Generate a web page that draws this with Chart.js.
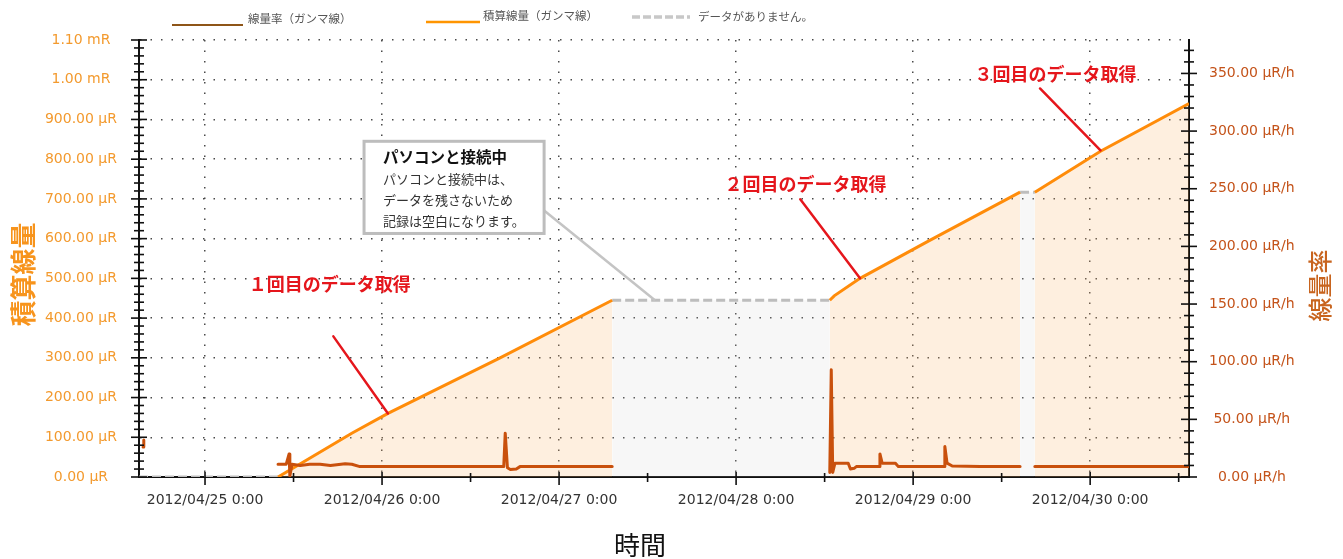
<!DOCTYPE html>
<html lang="ja">
<head>
<meta charset="utf-8">
<title>線量率・積算線量</title>
<script src="https://cdn.jsdelivr.net/npm/chart.js@4.4.1/dist/chart.umd.min.js"></script>
<style>
  html, body { margin: 0; padding: 0; background: #fff; }
  #wrap { width: 1343px; height: 559px; position: relative; }
</style>
</head>
<body>
<div id="wrap"><canvas id="c"></canvas></div>
<script>
// Time axis: hours counted from 2012/04/25 0:00
const axisStartHour = -8.95;
const axisEndHour = 133.4;
const dayTickHours = [0, 24, 48, 72, 96, 120];
const dayTickLabels = ['2012/04/25 0:00', '2012/04/26 0:00', '2012/04/27 0:00',
                       '2012/04/28 0:00', '2012/04/29 0:00', '2012/04/30 0:00'];
const halfDayTickHours = [12, 36, 60, 84, 108, 132];

// 積算線量 axis (μR) and 線量率 axis (μR/h)
const doseTicks = [0, 100, 200, 300, 400, 500, 600, 700, 800, 900, 1000, 1100];
const rateTicks = [0, 50, 100, 150, 200, 250, 300, 350];
const doseMax = 1100;
const rateMax = 379;

// 線量率（ガンマ線） μR/h — null marks a break between recordings
const rateHours = [-8.4, -8.3, 0,
  9.9, 11.0, 11.4, 11.5, 11.8, 12.9, 14.2, 15.6, 17.0, 19.0, 19.9, 21.0, 26.4, 33.2,
  40.5, 40.7, 41.0, 41.4, 42.2, 42.7, 48.1, 55.2, 70,
  84.7, 84.9, 85.1, 85.4, 87.2, 87.5, 88.0, 88.3, 91.4, 91.5, 91.8, 93.6, 94.0,
  100.2, 100.3, 100.6, 101.3, 105.1, 110.5, 111.5,
  112.5, 121.4, 133.4];
const rateValues = [26, 32, null,
  11, 11, 20, 1, 11, 10, 11, 11, 10, 11.5, 11, 9, 9, 9,
  9, 38, 8, 6.5, 7, 9, 9, 9, null,
  4, 93, 4, 12, 12, 7, 7.5, 9, 9, 20, 12, 12, 9,
  9, 26.5, 12, 9.5, 9, 9, null,
  9, 9, 9];

// 積算線量（ガンマ線） μR
const doseHours = [9.9, 19.9, 24.8, 40.0, 55.2, 70,
  84.7, 85.3, 88.8, 98.0, 110.5, 111.5,
  112.5, 121.4, 133.4];
const doseValues = [0, 110, 160, 300, 445, null,
  445, 456, 500, 593, 717, null,
  717, 820, 940];

// データがありません。 spans (dose held flat while nothing is recorded)
const gapHours = [-8.95, 9.9, 30, 55.2, 84.7, 100, 110.5, 112.5];
const gapValues = [0, 0, null, 445, 445, null, 717, 717];

const toPoints = (xs, ys) => xs.map((x, i) => ({ x: x, y: ys[i] }));

const LATIN = '"DejaVu Sans", Verdana, sans-serif';
const CJK = '"Noto Sans CJK JP", "Noto Sans", sans-serif';

const fmtDose = v => v >= 1000 ? (v / 1000).toFixed(2) + ' mR' : v.toFixed(2) + ' μR';
const fmtRate = v => v.toFixed(2) + ' μR/h';

// Red call-outs, placed in (hour, μR) coordinates
const callouts = [
  { text: '１回目のデータ取得', at: [16.9, 485], from: [17.4, 354], to: [24.8, 160] },
  { text: '２回目のデータ取得', at: [81.4, 737], from: [80.7, 699], to: [88.8, 500] },
  { text: '３回目のデータ取得', at: [115.3, 1014], from: [113.2, 978], to: [121.4, 822] }
];
// Note box explaining the blank span
const noteBox = {
  title: 'パソコンと接続中',
  lines: ['パソコンと接続中は、', 'データを残さないため', '記録は空白になります。'],
  left: 21.56, right: 45.97, top: 845, bottom: 613,
  pointerFrom: [45.97, 671], pointerTo: [61.0, 445]
};

const decorations = {
  id: 'decorations',
  afterDraw(chart) {
    const { ctx, chartArea: a, scales } = chart;
    const x = scales.x, yL = scales.yL, yR = scales.yR;

    // axis tick marks crossing the axis lines
    ctx.save();
    ctx.strokeStyle = '#111';
    ctx.lineWidth = 1.6;
    const hMark = (px, py, len) => { ctx.beginPath(); ctx.moveTo(px - len, py); ctx.lineTo(px + len, py); ctx.stroke(); };
    const vMark = (px, py, up, down) => { ctx.beginPath(); ctx.moveTo(px, py - up); ctx.lineTo(px, py + down); ctx.stroke(); };
    for (let i = 0; i < doseTicks.length; i++) {
      const v = doseTicks[i];
      hMark(a.left, yL.getPixelForValue(v), 8);
      if (i < doseTicks.length - 1) {
        const step = (doseTicks[i + 1] - v) / 5;
        for (let k = 1; k < 5; k++) hMark(a.left, yL.getPixelForValue(v + k * step), 5);
      }
    }
    for (let v = 0; v <= rateMax; v += 10) {
      const major = rateTicks.indexOf(v) >= 0;
      hMark(a.right, yR.getPixelForValue(v), major ? 8 : 5);
    }
    dayTickHours.forEach(h => vMark(x.getPixelForValue(h), a.bottom, 5, 8));
    halfDayTickHours.forEach(h => vMark(x.getPixelForValue(h), a.bottom, 4, 5));
    ctx.restore();

    // note box with pointer
    ctx.save();
    ctx.strokeStyle = '#C4C4C4';
    ctx.lineWidth = 2.5;
    ctx.beginPath();
    ctx.moveTo(x.getPixelForValue(noteBox.pointerFrom[0]), yL.getPixelForValue(noteBox.pointerFrom[1]));
    ctx.lineTo(x.getPixelForValue(noteBox.pointerTo[0]), yL.getPixelForValue(noteBox.pointerTo[1]));
    ctx.stroke();
    const bl = x.getPixelForValue(noteBox.left), br = x.getPixelForValue(noteBox.right);
    const bt = yL.getPixelForValue(noteBox.top), bb = yL.getPixelForValue(noteBox.bottom);
    ctx.fillStyle = '#fff';
    ctx.fillRect(bl, bt, br - bl, bb - bt);
    ctx.lineWidth = 3;
    ctx.strokeStyle = '#BDBDBD';
    ctx.strokeRect(bl, bt, br - bl, bb - bt);
    ctx.textBaseline = 'middle';
    ctx.textAlign = 'left';
    ctx.fillStyle = '#111';
    ctx.font = 'bold 15.5px ' + CJK;
    ctx.fillText(noteBox.title, bl + 19, bt + 16);
    ctx.fillStyle = '#333';
    ctx.font = '13px ' + CJK;
    noteBox.lines.forEach((t, i) => ctx.fillText(t, bl + 19, bt + 38 + i * 21));
    ctx.restore();

    // red call-outs
    ctx.save();
    ctx.strokeStyle = '#E5161C';
    ctx.fillStyle = '#E5161C';
    ctx.lineWidth = 2.5;
    ctx.lineCap = 'round';
    ctx.font = 'bold 18px ' + CJK;
    ctx.textAlign = 'center';
    ctx.textBaseline = 'middle';
    callouts.forEach(c => {
      ctx.beginPath();
      ctx.moveTo(x.getPixelForValue(c.from[0]), yL.getPixelForValue(c.from[1]));
      ctx.lineTo(x.getPixelForValue(c.to[0]), yL.getPixelForValue(c.to[1]));
      ctx.stroke();
      ctx.fillText(c.text, x.getPixelForValue(c.at[0]), yL.getPixelForValue(c.at[1]));
    });
    ctx.restore();

    // axis titles
    ctx.save();
    ctx.textAlign = 'center';
    ctx.textBaseline = 'middle';
    ctx.fillStyle = '#F7941D';
    ctx.font = 'bold 26px ' + CJK;
    ctx.translate(23, (a.top + a.bottom) / 2 + 16);
    ctx.rotate(-Math.PI / 2);
    ctx.fillText('積算線量', 0, 0);
    ctx.restore();

    ctx.save();
    ctx.textAlign = 'center';
    ctx.textBaseline = 'middle';
    ctx.fillStyle = '#C8641E';
    ctx.font = '500 24px ' + CJK;
    ctx.translate(1320, (a.top + a.bottom) / 2 + 27);
    ctx.rotate(-Math.PI / 2);
    ctx.fillText('線量率', 0, 0);
    ctx.restore();

    ctx.save();
    ctx.textAlign = 'center';
    ctx.textBaseline = 'middle';
    ctx.fillStyle = '#111';
    ctx.font = '26px ' + CJK;
    ctx.fillText('時間', 640, 545);
    ctx.restore();

    // legend
    const ds = chart.data.datasets;
    const legend = [
      { label: ds[0].label, color: '#8E5518', width: 2, dash: [], x1: 172, x2: 243, ly: 25, tx: 248, ty: 19 },
      { label: ds[1].label, color: '#FF9500', width: 2.5, dash: [], x1: 426, x2: 480, ly: 22, tx: 483, ty: 16 },
      { label: ds[2].label, color: '#C8C8C8', width: 3.5, dash: [8, 3], x1: 632, x2: 690, ly: 17, tx: 698, ty: 17 }
    ];
    ctx.save();
    ctx.font = '11.5px ' + CJK;
    ctx.textBaseline = 'middle';
    ctx.textAlign = 'left';
    legend.forEach(it => {
      ctx.strokeStyle = it.color;
      ctx.lineWidth = it.width;
      ctx.setLineDash(it.dash);
      ctx.beginPath();
      ctx.moveTo(it.x1, it.ly);
      ctx.lineTo(it.x2, it.ly);
      ctx.stroke();
      ctx.setLineDash([]);
      ctx.fillStyle = '#555';
      ctx.fillText(it.label, it.tx, it.ty);
    });
    ctx.restore();
  }
};

new Chart(document.getElementById('c'), {
  type: 'line',
  data: {
    datasets: [
      {
        label: '線量率（ガンマ線）',
        yAxisID: 'yR',
        data: toPoints(rateHours, rateValues),
        borderColor: '#C9500C',
        borderWidth: 3,
        borderJoinStyle: 'round',
        borderCapStyle: 'round',
        pointRadius: 0,
        fill: false,
        spanGaps: false
      },
      {
        label: '積算線量（ガンマ線）',
        yAxisID: 'yL',
        data: toPoints(doseHours, doseValues),
        borderColor: '#FF8C0A',
        borderWidth: 3,
        pointRadius: 0,
        fill: 'origin',
        backgroundColor: 'rgba(250,180,110,0.22)',
        spanGaps: false
      },
      {
        label: 'データがありません。',
        yAxisID: 'yL',
        data: toPoints(gapHours, gapValues),
        borderColor: '#BDBDBD',
        borderWidth: 3,
        borderDash: [9, 4],
        pointRadius: 0,
        fill: 'origin',
        backgroundColor: 'rgba(200,200,200,0.15)',
        spanGaps: false
      }
    ]
  },
  options: {
    responsive: true,
    maintainAspectRatio: false,
    animation: false,
    layout: { padding: { top: 40, left: 0, right: 0, bottom: 0 } },
    plugins: { legend: { display: false }, tooltip: { enabled: false } },
    scales: {
      x: {
        type: 'linear',
        position: 'bottom',
        min: axisStartHour,
        max: axisEndHour,
        afterBuildTicks: s => { s.ticks = dayTickHours.map(v => ({ value: v })); },
        afterFit: s => { s.height = 82; },
        ticks: {
          autoSkip: false,
          maxRotation: 0,
          padding: 15,
          color: '#333',
          font: { family: LATIN, size: 14 },
          callback: v => { const i = dayTickHours.indexOf(v); return i >= 0 ? dayTickLabels[i] : ''; }
        },
        grid: { color: '#4a4a4a', lineWidth: 1.5, drawTicks: false },
        border: { display: true, color: '#111', width: 2, dash: [1.5, 9] }
      },
      yL: {
        type: 'linear',
        position: 'left',
        min: 0,
        max: doseMax,
        afterBuildTicks: s => { s.ticks = doseTicks.map(v => ({ value: v })); },
        afterFit: s => { s.width = 139; },
        ticks: {
          padding: 22,
          crossAlign: 'center',
          color: '#F39A2E',
          font: { family: LATIN, size: 14 },
          callback: v => fmtDose(v)
        },
        grid: { color: '#4a4a4a', lineWidth: 1.5, drawTicks: false },
        border: { display: true, color: '#111', width: 2, dash: [1.5, 9] }
      },
      yR: {
        type: 'linear',
        position: 'right',
        min: 0,
        max: rateMax,
        afterBuildTicks: s => { s.ticks = rateTicks.map(v => ({ value: v })); },
        afterFit: s => { s.width = 154; },
        ticks: {
          padding: 20,
          crossAlign: 'center',
          color: '#C4531A',
          font: { family: LATIN, size: 14 },
          callback: v => fmtRate(v)
        },
        grid: { display: false, drawTicks: false },
        border: { display: true, color: '#111', width: 2 }
      }
    }
  },
  plugins: [decorations]
});
</script>
</body>
</html>
